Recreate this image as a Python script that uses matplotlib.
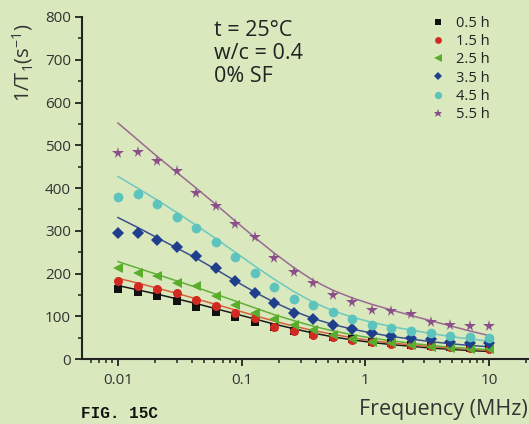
import matplotlib
matplotlib.use("Agg")
import matplotlib.pyplot as plt
from matplotlib.ticker import LogLocator, MultipleLocator, FixedLocator, NullFormatter

freq = [0.01, 0.0144, 0.0207, 0.0298, 0.0428, 0.0616, 0.0886, 0.127, 0.183, 0.264,
        0.379, 0.546, 0.785, 1.13, 1.62, 2.34, 3.36, 4.83, 6.95, 10.0]

labels = ["0.5 h", "1.5 h", "2.5 h", "3.5 h", "4.5 h", "5.5 h"]

pts_05 = [165, 157, 147, 135, 123, 110, 98, 86, 76, 66, 58, 52, 46, 41, 37, 33, 31, 29, 27, 25]
pts_15 = [183, 170, 164, 155, 139, 125, 108, 95, 76, 65, 57, 51, 45, 39, 35, 32, 30, 28, 26, 24]
pts_25 = [213, 202, 195, 178, 170, 147, 126, 108, 93, 80, 69, 56, 48, 40, 37, 32, 29, 26, 24, 23]
pts_35 = [296, 294, 278, 261, 240, 212, 182, 155, 131, 109, 94, 80, 70, 62, 55, 50, 46, 41, 38, 37]
pts_45 = [380, 386, 362, 333, 306, 273, 238, 202, 169, 140, 126, 110, 93, 80, 73, 66, 61, 55, 52, 50]
pts_55 = [483, 485, 464, 440, 389, 358, 316, 286, 237, 204, 177, 151, 134, 114, 112, 105, 87, 79, 77, 77]

fit_05 = [172, 162, 152, 141, 130, 118, 106, 94, 82, 71, 61, 52, 45, 39, 34, 30, 26, 23, 20, 18]
fit_15 = [189, 178, 166, 154, 141, 128, 115, 102, 89, 77, 67, 58, 50, 43, 38, 33, 29, 26, 23, 21]
fit_25 = [228, 213, 198, 183, 168, 152, 136, 120, 104, 90, 77, 66, 57, 49, 43, 37, 32, 28, 25, 22]
fit_35 = [331, 308, 284, 260, 236, 210, 183, 157, 133, 112, 95, 81, 70, 61, 53, 47, 41, 36, 32, 29]
fit_45 = [427, 400, 372, 343, 313, 282, 250, 218, 187, 158, 133, 113, 98, 86, 76, 68, 60, 53, 47, 42]
fit_55 = [552, 513, 474, 437, 400, 362, 323, 285, 248, 214, 184, 161, 143, 128, 115, 102, 90, 78, 66, 55]

points = [pts_05, pts_15, pts_25, pts_35, pts_45, pts_55]
fits = [fit_05, fit_15, fit_25, fit_35, fit_45, fit_55]

yticks = [0, 100, 200, 300, 400, 500, 600, 700, 800]
xticks = [0.01, 0.1, 1, 10]
xticklabels = ["0.01", "0.1", "1", "10"]

mk_colors = ["#111111", "#d02a22", "#5aad2c", "#1f3f8c", "#5cc4bc", "#8a4f88"]
ln_colors = ["#1a1a1a", "#d9603c", "#62b03a", "#3b4f8c", "#6cc8c0", "#9a6a92"]
markers = ["s", "o", "<", "D", "o", "*"]
msizes = [5.5, 6.5, 7.0, 6.0, 7.0, 8.5]

bg = "#d9e8bd"
font = ["Open Sans", "DejaVu Sans"]
plt.rcParams["font.family"] = font
plt.rcParams["mathtext.fontset"] = "custom"
plt.rcParams["mathtext.rm"] = "Open Sans"
plt.rcParams["mathtext.it"] = "Open Sans"
plt.rcParams["mathtext.default"] = "regular"

fig = plt.figure(figsize=(5.29, 4.24), dpi=100, facecolor=bg)
ax = fig.add_axes([0.155, 0.153, 0.845, 0.807], facecolor=bg)

handles = []
for p, f, mc, lc, m, ms, lab in zip(points, fits, mk_colors, ln_colors, markers, msizes, labels):
    ax.plot(freq, f, color=lc, lw=1.1, zorder=2)
    h, = ax.plot(freq, p, linestyle="none", marker=m, color=mc, markersize=ms,
                 markeredgewidth=0, label=lab, zorder=3)
    handles.append(h)

ax.set_xscale("log")
ax.set_xlim(0.00512, 21.0)
ax.set_ylim(0, 800)
ax.set_yticks(yticks)
ax.yaxis.set_minor_locator(MultipleLocator(50))
ax.xaxis.set_major_locator(FixedLocator(xticks))
ax.set_xticklabels(xticklabels)
ax.xaxis.set_minor_locator(LogLocator(base=10, subs=range(2, 10)))
ax.xaxis.set_minor_formatter(NullFormatter())

for s in ["top", "right"]:
    ax.spines[s].set_visible(False)
for s in ["left", "bottom"]:
    ax.spines[s].set_linewidth(1.5)
    ax.spines[s].set_color("#222222")

ax.tick_params(axis="both", which="major", direction="out", length=5, width=1.3,
               labelsize=11, colors="#222222", labelcolor="#333333")
ax.tick_params(axis="x", which="major", pad=5)
ax.tick_params(axis="y", which="major", pad=3)
ax.tick_params(axis="both", which="minor", direction="out", length=3, width=1.1,
               colors="#222222")

fig.text(23 / 529, 1 - 63 / 424, "1/T$_1$(s$^{-1}$)", rotation=90, ha="center",
         va="center", fontsize=14.5, color="#333333")
fig.text(528 / 529, 1 - 410 / 424, "Frequency (MHz)", ha="right", va="center",
         fontsize=15.5, color="#333333")
fig.text(81 / 529, 1 - 413 / 424, "FIG. 15C", ha="left", va="center",
         fontsize=11.5, fontweight="bold", family="Liberation Mono", color="#111111")

ax.text(0.295, 0.99, "t = 25°C\nw/c = 0.4\n0% SF", transform=ax.transAxes,
        ha="left", va="top", fontsize=15.5, color="#222222", linespacing=1.12)

leg = ax.legend(handles=handles, loc="upper left", bbox_to_anchor=(0.768, 1.02),
                frameon=False, fontsize=10.5, handlelength=1.0, handletextpad=0.7,
                labelspacing=0.22, borderaxespad=0, markerscale=0.75)
for t in leg.get_texts():
    t.set_color("#222222")

fig.savefig("out.png", dpi=100, facecolor=bg)
